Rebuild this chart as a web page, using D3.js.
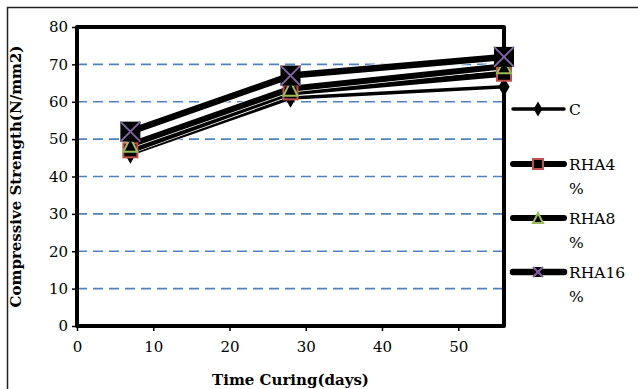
<!DOCTYPE html>
<html>
<head>
<meta charset="utf-8">
<script src="https://cdn.jsdelivr.net/npm/d3@7"></script>
<style>
  body { margin: 0; background: #fff; }
  text { font-family: "DejaVu Serif", "Liberation Serif", serif; }
</style>
</head>
<body>
<svg width="638" height="389"></svg>
<script>
// curing ages (days) and strengths (N/mm2)
var days = [7, 28, 56];
var seriesNames = ["C", "RHA4 %", "RHA8 %", "RHA16 %"];
var strengthC = [46, 61, 64];
var strengthRHA4 = [47, 62.5, 67.5];
var strengthRHA8 = [48.5, 63.5, 69.5];
var strengthRHA16 = [52, 67, 72];
var xTicks = [0, 10, 20, 30, 40, 50];
var yTicks = [0, 10, 20, 30, 40, 50, 60, 70, 80];

var svg = d3.select("svg");

var x = d3.scaleLinear().domain([0, 56]).range([77, 504]),
    y = d3.scaleLinear().domain([0, 80]).range([326, 27]);

// outer chart frame (only top and left edges fall inside the picture)
svg.append("rect")
    .attr("x", 7.5).attr("y", 7.5)
    .attr("width", 640).attr("height", 400)
    .attr("fill", "none").attr("stroke", "#222").attr("stroke-width", 1.5);

// dashed gridlines
svg.append("g")
  .selectAll("line")
  .data(yTicks.filter(function(d) { return d > 0 && d < 80; }))
  .enter().append("line")
    .attr("x1", x(0)).attr("x2", x(56))
    .attr("y1", function(d) { return y(d); })
    .attr("y2", function(d) { return y(d); })
    .attr("stroke", "#4F81BD")
    .attr("stroke-width", 1.6)
    .attr("stroke-dasharray", "10,6");

// axes
var yAxis = d3.axisLeft(y).tickValues(yTicks).tickSize(5).tickPadding(4);
var xAxis = d3.axisBottom(x).tickValues(xTicks).tickSize(5).tickPadding(10);

function styleAxis(g) {
  g.select(".domain").remove();
  g.selectAll("line").attr("stroke", "#000").attr("stroke-width", 1.5);
  g.selectAll("text").attr("font-size", 15).attr("fill", "#000");
}

svg.append("g")
    .attr("transform", "translate(" + x(0) + ",0)")
    .call(yAxis)
    .call(styleAxis);

svg.append("g")
    .attr("transform", "translate(0," + y(0) + ")")
    .call(xAxis)
    .call(styleAxis);

// plot border
svg.append("rect")
    .attr("x", x(0)).attr("y", y(80))
    .attr("width", x(56) - x(0)).attr("height", y(0) - y(80))
    .attr("fill", "none").attr("stroke", "#000").attr("stroke-width", 4)
    .attr("stroke-linejoin", "round");

// axis titles
svg.append("text")
    .attr("x", x(28)).attr("y", 385)
    .attr("text-anchor", "middle")
    .attr("font-size", 15).attr("font-weight", "bold")
    .text("Time Curing(days)");

svg.append("text")
    .attr("transform", "translate(21," + y(40) + ") rotate(-90)")
    .attr("text-anchor", "middle")
    .attr("font-size", 15).attr("font-weight", "bold")
    .text("Compressive Strength(N/mm2)");

var series = [
  {name: seriesNames[0], values: strengthC, width: 3.5, marker: "diamond"},
  {name: seriesNames[1], values: strengthRHA4, width: 6, marker: "square"},
  {name: seriesNames[2], values: strengthRHA8, width: 6, marker: "triangle"},
  {name: seriesNames[3], values: strengthRHA16, width: 6.5, marker: "cross"}
];

var line = d3.line()
    .x(function(d, i) { return x(days[i]); })
    .y(function(d) { return y(d); });

function drawMarker(g, type, size) {
  var h = size / 2;
  if (type === "diamond") {
    g.append("path")
        .attr("d", d3.symbol().type(d3.symbolDiamond).size(size * size * 0.55)())
        .attr("fill", "#000");
  } else if (type === "square") {
    g.append("rect")
        .attr("x", -h).attr("y", -h).attr("width", size).attr("height", size)
        .attr("fill", "#000").attr("stroke", "#C0504D").attr("stroke-width", 2);
  } else if (type === "triangle") {
    g.append("path")
        .attr("d", "M0," + (-h) + "L" + h + "," + h + "L" + (-h) + "," + h + "Z")
        .attr("fill", "#000").attr("stroke", "#9BBB59").attr("stroke-width", 2);
  } else {
    g.append("rect")
        .attr("x", -h).attr("y", -h).attr("width", size).attr("height", size)
        .attr("fill", "#000");
    g.append("path")
        .attr("d", "M" + (-h) + "," + (-h) + "L" + h + "," + h + "M" + h + "," + (-h) + "L" + (-h) + "," + h)
        .attr("stroke", "#8064A2").attr("stroke-width", 2);
  }
}

var plot = svg.append("g");

series.forEach(function(s) {
  plot.append("path")
      .datum(s.values)
      .attr("d", line)
      .attr("fill", "none")
      .attr("stroke", "#fff")
      .attr("stroke-width", s.width + 1.5);
  plot.append("path")
      .datum(s.values)
      .attr("d", line)
      .attr("fill", "none")
      .attr("stroke", "#000")
      .attr("stroke-width", s.width)
      .attr("stroke-linejoin", "round");
});

series.forEach(function(s) {
  s.values.forEach(function(v, i) {
    var g = plot.append("g")
        .attr("transform", "translate(" + x(days[i]) + "," + y(v) + ")");
    drawMarker(g, s.marker, s.marker === "cross" ? 20 : 14);
  });
});

// legend
var legendY = [109, 164, 218, 272];
var legend = svg.append("g");
series.forEach(function(s, i) {
  var g = legend.append("g").attr("transform", "translate(0," + legendY[i] + ")");
  g.append("line")
      .attr("x1", 513).attr("x2", 564)
      .attr("stroke", "#000").attr("stroke-width", s.width)
      .attr("stroke-linecap", "round");
  var mg = g.append("g").attr("transform", "translate(538,0)");
  drawMarker(mg, s.marker, s.marker === "diamond" ? 11 : 10);
  var parts = s.name.split(" ");
  var t = g.append("text")
      .attr("x", 569).attr("y", 6)
      .attr("font-size", 15.5).attr("fill", "#000");
  parts.forEach(function(p, j) {
    t.append("tspan").attr("x", 569).attr("dy", j === 0 ? 0 : 24).text(p);
  });
});
</script>
</body>
</html>
